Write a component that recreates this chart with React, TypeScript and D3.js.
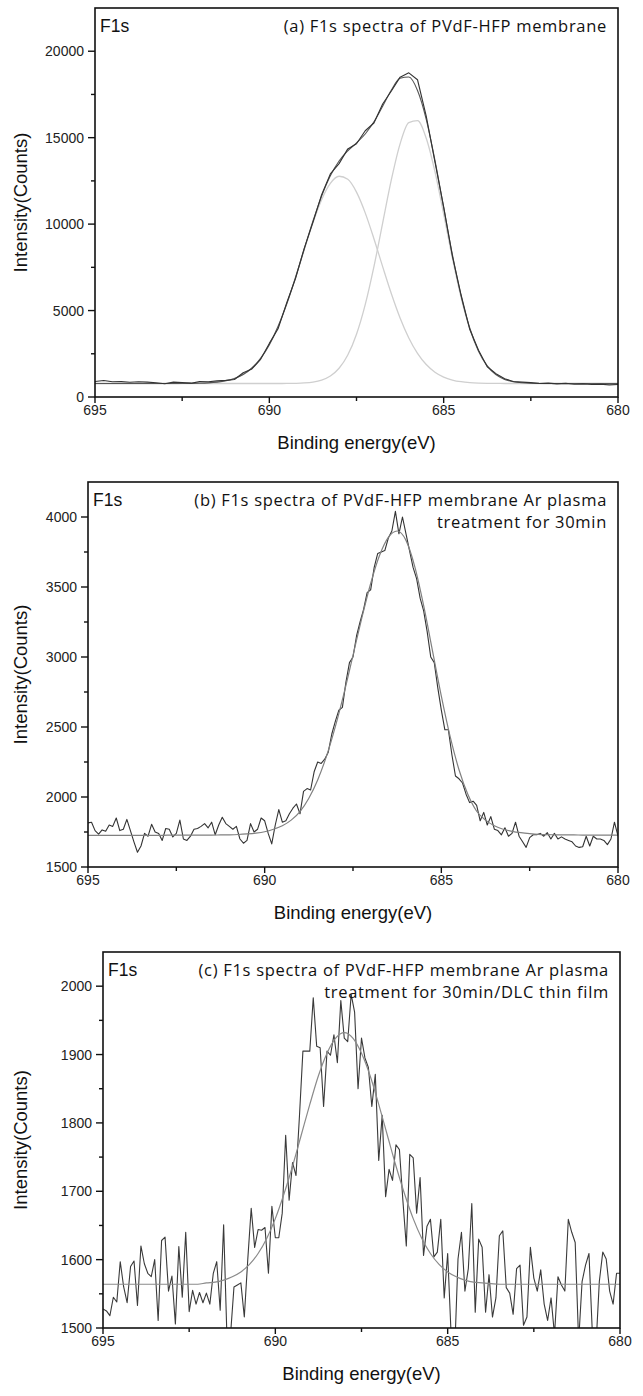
import React from "react";
import * as d3 from "d3";

// ---------- sampling grids (binding energy, eV) ----------
const energyGrid = (start: number, step: number, count: number) =>
  d3.range(count).map((i) => +(start - step * i).toFixed(2));

// ---------- axis ticks ----------
const xMajor = [695, 690, 685, 680];
const xMinor = [692.5, 687.5, 682.5];
const aYMajor = [0, 5000, 10000, 15000, 20000];
const aYMinor = [2500, 7500, 12500, 17500];
const bYMajor = [1500, 2000, 2500, 3000, 3500, 4000];
const bYMinor = [1750, 2250, 2750, 3250, 3750];
const cYMajor = [1500, 1600, 1700, 1800, 1900, 2000];
const cYMinor = [1550, 1650, 1750, 1850, 1950];

// ---------- panel (a): 695 -> 680 eV, step 0.25 ----------
const aRaw = [
  900, 950, 880, 890, 850, 880, 860, 820, 770, 860,
  840, 800, 890, 880, 930, 960, 1010, 1400, 1620, 2180,
  3100, 3950, 5450, 6850, 8600, 10100, 11700, 12900, 13500, 14350,
  14650, 15400, 15850, 16950, 17700, 18500, 18750, 18350, 16250, 13600,
  11000, 8150, 5900, 3900, 2700, 1750, 1350, 1050, 900, 860,
  830, 780, 800, 760, 790, 740, 760, 720, 740, 700,
  720,
];
const aEnvelope = [
  780, 780, 780, 780, 780, 780, 780, 780, 780, 781,
  783, 788, 797, 818, 859, 936, 1075, 1307, 1678, 2238,
  3028, 4081, 5390, 6911, 8546, 10163, 11618, 12794, 13651, 14238,
  14699, 15213, 15917, 16820, 17758, 18434, 18505, 17729, 16063, 13687,
  10949, 8232, 5852, 3982, 2654, 1796, 1292, 1018, 882, 821,
  795, 785, 781, 780, 780, 780, 780, 780, 780, 780,
  780,
];
const aPeak1 = [
  780, 780, 780, 780, 780, 780, 780, 780, 780, 781,
  783, 788, 797, 818, 859, 936, 1075, 1307, 1678, 2238,
  3028, 4080, 5386, 6899, 8513, 10078, 11417, 12357, 12768, 12590,
  11850, 10651, 9155, 7540, 5971, 4572, 3416, 2524, 1877, 1436,
  1154, 983, 884, 831, 804, 791, 785, 782, 781, 780,
  780, 780, 780, 780, 780, 780, 780, 780, 780, 780,
  780,
];
const aPeak2 = [
  780, 780, 780, 780, 780, 780, 780, 780, 780, 780,
  780, 780, 780, 780, 780, 780, 780, 780, 780, 780,
  780, 781, 784, 792, 813, 865, 981, 1217, 1663, 2428,
  3629, 5342, 7542, 10060, 12567, 14642, 15869, 15985, 14966, 13031,
  10575, 8029, 5748, 3931, 2630, 1785, 1287, 1016, 881, 821,
  795, 785, 781, 780, 780, 780, 780, 780, 780, 780,
  780,
];

// ---------- panel (b): raw 695 -> 680 step 0.1, fit step 0.25 ----------
const bRaw = [
  1815, 1820, 1760, 1735, 1765, 1755, 1800, 1790, 1850, 1760,
  1770, 1840, 1760, 1680, 1605, 1650, 1740, 1720, 1805, 1750,
  1740, 1690, 1775, 1770, 1715, 1740, 1835, 1700, 1690, 1720,
  1770, 1775, 1790, 1810, 1780, 1820, 1730, 1800, 1855, 1810,
  1790, 1770, 1790, 1700, 1670, 1690, 1810, 1750, 1770, 1850,
  1830, 1740, 1665, 1800, 1910, 1820, 1830, 1880, 1920, 1950,
  1880, 2040, 2060, 2050, 2180, 2250, 2240, 2270, 2320, 2450,
  2540, 2620, 2640, 2820, 2960, 3000, 3150, 3250, 3340, 3460,
  3480, 3640, 3740, 3750, 3760, 3850, 3900, 4040, 3880, 4000,
  3880, 3760, 3640, 3560, 3420, 3330, 3180, 3000, 2960, 2780,
  2620, 2480, 2480, 2300, 2150, 2130, 2100, 2020, 1960, 1970,
  1940, 1830, 1890, 1800, 1860, 1770, 1760, 1730, 1780, 1720,
  1740, 1820, 1720, 1680, 1640, 1710, 1730, 1730, 1740, 1720,
  1745, 1700, 1740, 1700, 1715, 1700, 1690, 1680, 1650, 1640,
  1645, 1720, 1650, 1720, 1700, 1700, 1690, 1660, 1700, 1820,
  1720,
];
const bFit = [
  1726, 1726, 1726, 1726, 1726, 1726, 1726, 1726, 1726, 1727,
  1727, 1727, 1727, 1728, 1728, 1729, 1730, 1732, 1736, 1742,
  1752, 1770, 1795, 1835, 1896, 1991, 2122, 2292, 2503, 2746,
  3012, 3279, 3525, 3725, 3855, 3900, 3833, 3644, 3367, 3044,
  2721, 2431, 2195, 2019, 1898, 1835, 1795, 1770, 1755, 1745,
  1738, 1733, 1731, 1730, 1729, 1729, 1728, 1728, 1728, 1728,
  1728,
];

// ---------- panel (c): raw 695 -> 680 step 0.1, fit step 0.25 ----------
const cRaw = [
  1528, 1525, 1518, 1545, 1538, 1597, 1560, 1537, 1590, 1598,
  1533, 1620, 1594, 1580, 1575, 1600, 1511, 1628, 1633, 1554,
  1576, 1506, 1619, 1545, 1640, 1524, 1555, 1535, 1552, 1537,
  1551, 1535, 1580, 1597, 1526, 1651, 1480, 1490, 1560, 1563,
  1566, 1516, 1600, 1675, 1618, 1644, 1643, 1647, 1580, 1678,
  1632, 1632, 1668, 1782, 1687, 1742, 1723, 1810, 1905, 1905,
  1905, 1983, 1912, 1910, 1824, 1905, 1899, 1929, 1888, 1979,
  1924, 1919, 1988, 1962, 1850, 1924, 1895, 1881, 1824, 1871,
  1745, 1811, 1692, 1732, 1716, 1768, 1761, 1687, 1620, 1754,
  1749, 1668, 1720, 1606, 1649, 1659, 1604, 1611, 1659, 1544,
  1609, 1490, 1460, 1601, 1640, 1554, 1587, 1682, 1523, 1630,
  1618, 1523, 1578, 1516, 1544, 1635, 1642, 1559, 1551, 1520,
  1587, 1592, 1504, 1516, 1618, 1573, 1554, 1585, 1535, 1511,
  1544, 1490, 1575, 1563, 1554, 1659, 1640, 1625, 1480, 1568,
  1592, 1609, 1490, 1470, 1568, 1611, 1601, 1554, 1535, 1580,
  1580,
];
const cFit = [
  1564, 1564, 1564, 1564, 1564, 1564, 1564, 1564, 1564, 1564,
  1564, 1564, 1566, 1567, 1570, 1575, 1582, 1593, 1609, 1631,
  1660, 1696, 1737, 1782, 1827, 1869, 1902, 1924, 1932, 1924,
  1902, 1869, 1827, 1782, 1737, 1696, 1660, 1631, 1609, 1593,
  1582, 1575, 1570, 1567, 1566, 1565, 1564, 1564, 1564, 1564,
  1564, 1564, 1564, 1564, 1564, 1564, 1564, 1564, 1564, 1564,
  1564,
];

const FINE = 0.1;
const COARSE = 0.25;

type Series = { values: number[]; step: number; color: string; width: number; smooth?: boolean };

type PanelCfg = {
  id: string;
  left: number;
  right: number;
  top: number;
  bottom: number;
  yDomain: [number, number];
  yMajor: number[];
  yMinor: number[];
  series: Series[];
  title: string[];
};

const TICK_FONT = '"Liberation Sans", Arial, Helvetica, sans-serif';
const NOTE_FONT = '"Open Sans", "Noto Sans", sans-serif';

const panels: PanelCfg[] = [
  {
    id: "a",
    left: 95,
    right: 618,
    top: 8,
    bottom: 397,
    yDomain: [0, 22500],
    yMajor: aYMajor,
    yMinor: aYMinor,
    series: [
      { values: aPeak1, step: COARSE, color: "#cfcfcf", width: 1.3, smooth: true },
      { values: aPeak2, step: COARSE, color: "#cfcfcf", width: 1.3, smooth: true },
      { values: aEnvelope, step: COARSE, color: "#555", width: 1.1, smooth: true },
      { values: aRaw, step: COARSE, color: "#333", width: 1.1 },
    ],
    title: ["(a) F1s spectra of PVdF-HFP membrane"],
  },
  {
    id: "b",
    left: 88,
    right: 618,
    top: 482,
    bottom: 867,
    yDomain: [1500, 4250],
    yMajor: bYMajor,
    yMinor: bYMinor,
    series: [
      { values: bRaw, step: FINE, color: "#333", width: 1.1 },
      { values: bFit, step: COARSE, color: "#808080", width: 1.2, smooth: true },
    ],
    title: ["(b) F1s spectra of PVdF-HFP membrane Ar plasma", "treatment for 30min"],
  },
  {
    id: "c",
    left: 103,
    right: 620,
    top: 952,
    bottom: 1328,
    yDomain: [1500, 2050],
    yMajor: cYMajor,
    yMinor: cYMinor,
    series: [
      { values: cRaw, step: FINE, color: "#3a3a3a", width: 1.1 },
      { values: cFit, step: COARSE, color: "#8a8a8a", width: 1.2, smooth: true },
    ],
    title: ["(c) F1s spectra of PVdF-HFP membrane Ar plasma", "treatment for 30min/DLC thin film"],
  },
];

function Panel({ cfg }: { cfg: PanelCfg }) {
  const x = d3.scaleLinear().domain([695, 680]).range([cfg.left, cfg.right]);
  const y = d3.scaleLinear().domain(cfg.yDomain).range([cfg.bottom, cfg.top]);
  const clipId = `clip-${cfg.id}`;
  const midY = (cfg.top + cfg.bottom) / 2;
  const midX = (cfg.left + cfg.right) / 2;

  return (
    <g>
      <defs>
        <clipPath id={clipId}>
          <rect x={cfg.left} y={cfg.top} width={cfg.right - cfg.left} height={cfg.bottom - cfg.top} />
        </clipPath>
      </defs>
      <g clipPath={`url(#${clipId})`}>
        {cfg.series.map((s, k) => {
          const xs = energyGrid(695, s.step, s.values.length);
          const pts: [number, number][] = s.values.map((v, i) => [xs[i], v]);
          const line = d3
            .line<[number, number]>()
            .x((d) => x(d[0]))
            .y((d) => y(d[1]))
            .curve(s.smooth ? d3.curveMonotoneX : d3.curveLinear);
          return (
            <path
              key={k}
              d={line(pts) || ""}
              fill="none"
              stroke={s.color}
              strokeWidth={s.width}
              strokeLinejoin="round"
            />
          );
        })}
      </g>
      {/* frame */}
      <rect
        x={cfg.left}
        y={cfg.top}
        width={cfg.right - cfg.left}
        height={cfg.bottom - cfg.top}
        fill="none"
        stroke="#111"
        strokeWidth={1.6}
      />
      {/* y ticks */}
      {cfg.yMajor.map((t) => (
        <g key={`ym${t}`}>
          <line x1={cfg.left - 7} x2={cfg.left} y1={y(t)} y2={y(t)} stroke="#111" strokeWidth={1.4} />
          <text
            x={cfg.left - 11}
            y={y(t)}
            dy="0.36em"
            textAnchor="end"
            fontFamily={TICK_FONT}
            fontSize={14}
            fill="#222"
          >
            {t}
          </text>
        </g>
      ))}
      {cfg.yMinor.map((t) => (
        <line key={`yn${t}`} x1={cfg.left - 4} x2={cfg.left} y1={y(t)} y2={y(t)} stroke="#111" strokeWidth={1.4} />
      ))}
      {/* x ticks */}
      {xMajor.map((t) => (
        <g key={`xm${t}`}>
          <line x1={x(t)} x2={x(t)} y1={cfg.bottom} y2={cfg.bottom + 6} stroke="#111" strokeWidth={1.4} />
          <text
            x={x(t)}
            y={cfg.bottom + 17.5}
            textAnchor="middle"
            fontFamily={TICK_FONT}
            fontSize={14}
            fill="#222"
          >
            {t}
          </text>
        </g>
      ))}
      {xMinor.map((t) => (
        <line key={`xn${t}`} x1={x(t)} x2={x(t)} y1={cfg.bottom} y2={cfg.bottom + 4} stroke="#111" strokeWidth={1.4} />
      ))}
      {/* axis titles */}
      <text
        x={midX}
        y={cfg.bottom + 52}
        textAnchor="middle"
        fontFamily={TICK_FONT}
        fontSize={18.5}
        fill="#111"
      >
        Binding energy(eV)
      </text>
      <text
        transform={`translate(27,${midY}) rotate(-90)`}
        textAnchor="middle"
        fontFamily={TICK_FONT}
        fontSize={18.5}
        fill="#111"
      >
        Intensity(Counts)
      </text>
      {/* annotations */}
      <text x={cfg.left + 5} y={cfg.top + 23.5} fontFamily={TICK_FONT} fontSize={17.5} fill="#111">
        F1s
      </text>
      {cfg.title.map((line, i) => (
        <text
          key={i}
          x={cfg.right - 11}
          y={cfg.top + 23.5 + i * 22.6}
          textAnchor="end"
          fontFamily={NOTE_FONT}
          fontSize={16.5}
          letterSpacing={0.7}
          fill="#111"
        >
          {line}
        </text>
      ))}
    </g>
  );
}

export default function App() {
  return (
    <svg width={643} height={1396} style={{ display: "block", position: "absolute", left: 0, top: 0, background: "#fff" }}>
      <rect x={0} y={0} width={643} height={1396} fill="#fff" />
      {panels.map((p) => (
        <Panel key={p.id} cfg={p} />
      ))}
    </svg>
  );
}
